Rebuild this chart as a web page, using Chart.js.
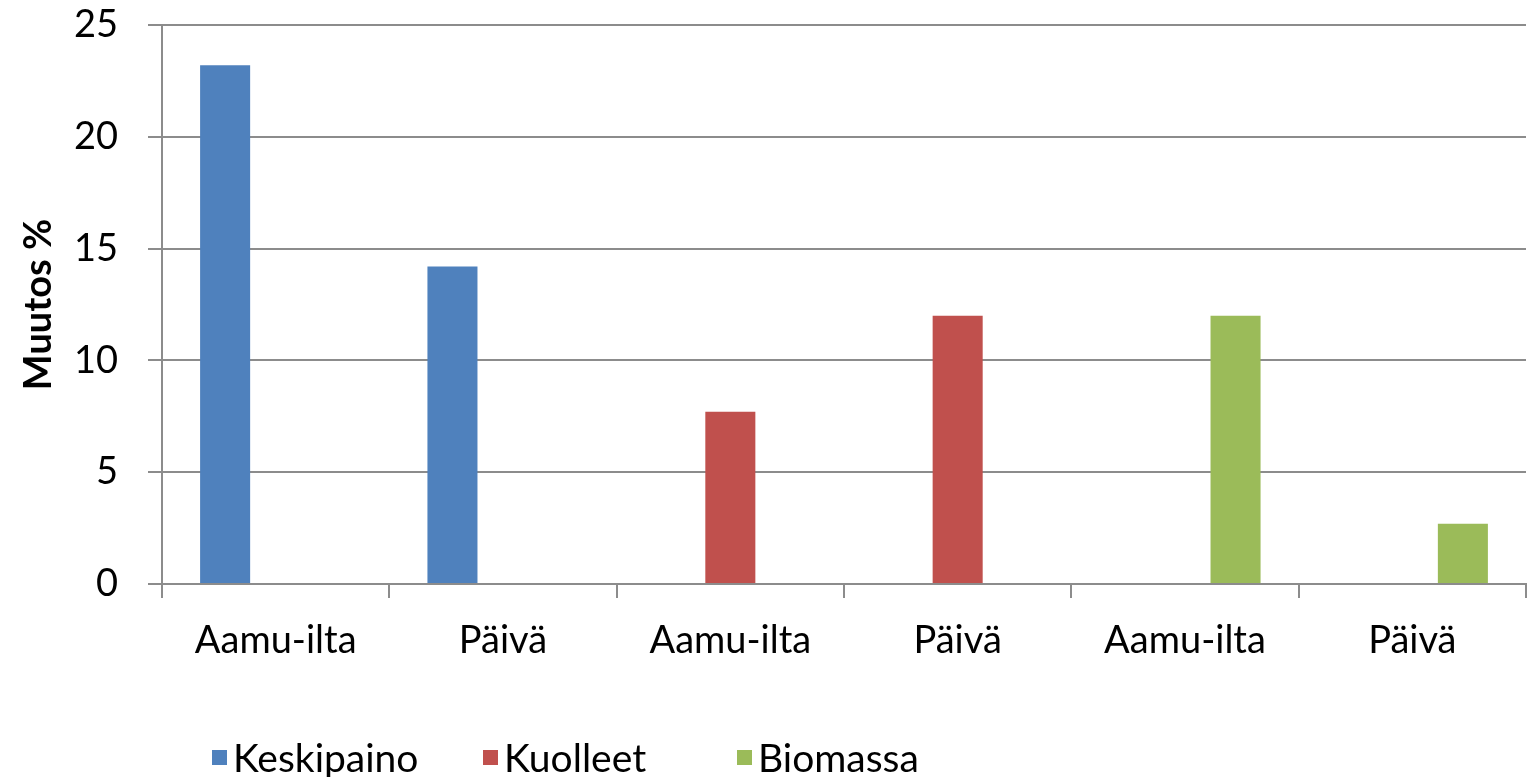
<!DOCTYPE html>
<html>
<head>
<meta charset="utf-8">
<script src="https://cdn.jsdelivr.net/npm/chart.js@4"></script>
<style>
  body { margin: 0; background: #fff; }
  #wrap { position: relative; width: 1530px; height: 777px; }
  #legend { position: absolute; left: 0; top: 734px; width: 1530px; height: 36px; font-family: Lato, sans-serif; font-size: 39px; color: #000; }
  #legend .item { position: absolute; top: 0; display: flex; align-items: center; white-space: nowrap; }
  #legend .box { width: 15px; height: 15px; margin-right: 6px; }
</style>
</head>
<body>
<div id="wrap">
  <canvas id="chart" width="1530" height="777"></canvas>
  <div id="legend"></div>
</div>
<script>
const categories = ['Aamu-ilta', 'Päivä', 'Aamu-ilta', 'Päivä', 'Aamu-ilta', 'Päivä'];
const seriesNames = ['Keskipaino', 'Kuolleet', 'Biomassa'];
const keskipaino = [23.2, 14.2, null, null, null, null];
const kuolleet = [null, null, 7.7, 12.0, null, null];
const biomassa = [null, null, null, null, 12.0, 2.7];
const yTicks = [0, 5, 10, 15, 20, 25];

const colors = ['#4F81BD', '#C0504D', '#9BBB59'];
const gridColor = '#8c8c8c';
const fontFamily = 'Lato, sans-serif';

const seriesValues = [keskipaino, kuolleet, biomassa];

const datasets = seriesNames.map((name, i) => ({
  label: name,
  data: seriesValues[i],
  backgroundColor: colors[i],
  borderWidth: 0,
  categoryPercentage: 0.667,
  barPercentage: 0.99
}));

new Chart(document.getElementById('chart'), {
  type: 'bar',
  data: {
    labels: categories,
    datasets: datasets
  },
  options: {
    responsive: false,
    animation: false,
    layout: {
      padding: { top: 25, right: 4, bottom: 0, left: 0 }
    },
    plugins: {
      legend: { display: false },
      tooltip: { enabled: false }
    },
    scales: {
      x: {
        grid: {
          offset: true,
          drawOnChartArea: false,
          drawTicks: true,
          tickLength: 14,
          color: gridColor,
          lineWidth: 2
        },
        border: { color: gridColor, width: 2 },
        ticks: {
          color: '#000',
          padding: 20,
          maxRotation: 0,
          font: { family: fontFamily, size: 38 }
        },
        afterFit: s => { s.height = 193; }
      },
      y: {
        min: 0,
        max: 25,
        afterBuildTicks: s => { s.ticks = yTicks.map(v => ({ value: v })); },
        grid: {
          color: gridColor,
          lineWidth: 2,
          tickLength: 14
        },
        border: { color: gridColor, width: 2 },
        ticks: {
          color: '#000',
          padding: 30,
          font: { family: fontFamily, size: 38 }
        },
        title: {
          display: true,
          text: 'Muutos %',
          color: '#000',
          padding: { top: 16, bottom: 0 },
          font: { family: fontFamily, size: 38, weight: 'bold' }
        },
        afterFit: s => {
          s.width = 162;
          s.paddingTop = 0;
          s.paddingBottom = 0;
        }
      }
    }
  }
});

// legend drawn as html under the canvas
const legendX = [212, 483, 737];
const legend = document.getElementById('legend');
seriesNames.forEach((name, i) => {
  const item = document.createElement('div');
  item.className = 'item';
  item.style.left = legendX[i] + 'px';
  item.innerHTML = '<span class="box" style="background:' + colors[i] + '"></span><span>' + name + '</span>';
  legend.appendChild(item);
});
</script>
</body>
</html>
